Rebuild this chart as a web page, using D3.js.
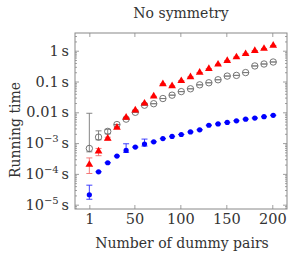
<!DOCTYPE html>
<html lang="en">
<head>
<meta charset="utf-8">
<title>No symmetry</title>
<script src="https://cdn.jsdelivr.net/npm/d3@7"></script>
<style>
  body { margin: 0; background: #fff; }
  text { font-family: "DejaVu Serif", serif; fill: #333; }
</style>
</head>
<body>
<svg id="chart" width="291" height="257"></svg>
<script>
/**number of dummy pairs on the x axis*/
var pairs = [1, 11, 21, 31, 41, 51, 61, 71, 81, 91, 101, 111, 121, 131, 141, 151, 161, 171, 181, 191, 201];

/**running times in seconds*/
var grayTimes = [6.7e-4, 1.56e-3, 2.4e-3, 4.0e-3, 6.0e-3, 0.010, 0.017, 0.019, 0.028, 0.036, 0.047,
                 0.058, 0.078, 0.091, 0.114, 0.15, 0.158, 0.195, 0.32, 0.37, 0.43];
var redTimes = [2.0e-4, 5.4e-4, 1.4e-3, 3.2e-3, 6.8e-3, 0.0117, 0.0195, 0.033, 0.083, 0.071, 0.105,
                0.14, 0.195, 0.26, 0.36, 0.47, 0.62, 0.79, 1.0, 1.17, 1.48];
var blueTimes = [2.1e-5, 1.17e-4, 2.3e-4, 3.8e-4, 5.8e-4, 7.4e-4, 9.3e-4, 1.1e-3, 1.4e-3, 1.65e-3, 1.9e-3,
                 2.3e-3, 2.7e-3, 3.8e-3, 4.2e-3, 4.7e-3, 5.3e-3, 6.0e-3, 6.5e-3, 7.2e-3, 8.0e-3];

/**error bar ends (null = bar hidden behind the mark)*/
var grayLo = [5.2e-4, 1.28e-3, 2.0e-3];
var grayHi = [9.3e-3, 2.5e-3, 2.8e-3];
var redLo = [1.03e-4, 3.9e-4, 1.25e-3];
var redHi = [3.3e-4, 6.7e-4, 1.55e-3];
var blueLo = [1.5e-5, null, null, null, 5.0e-4, null, 8.0e-4];
var blueHi = [4.3e-5, null, null, null, 9.5e-4, null, 1.35e-3];

/**axis ticks*/
var xTicks = [1, 50, 100, 150, 200];
var yTicks = [1e-5, 1e-4, 1e-3, 1e-2, 1e-1, 1];
var yLabels = [["10", "\u22125"], ["10", "\u22124"], ["10", "\u22123"], ["0.01"], ["0.1"], ["1"]];

var svg = d3.select("#chart"),
    plotLeft = 75, plotRight = 287, plotTop = 33, plotBottom = 209;

var x = d3.scaleLinear().domain([-14.6, 216]).range([plotLeft, plotRight]);
var y = d3.scaleLog().domain([7.24e-6, 3.76]).range([plotBottom, plotTop]);

/**minor ticks on the log axis: 2..9 times each decade*/
var minor = [];
for (var e = -6; e <= 0; e++) {
    for (var k = 2; k <= 9; k++) {
        var v = k * Math.pow(10, e);
        if (v > y.domain()[0] && v < y.domain()[1]) minor.push(v);
    }
}

/**ticks pointing inside, on all four sides*/
svg.append("g").attr("transform", "translate(0," + plotBottom + ")")
   .call(d3.axisBottom(x).tickValues(xTicks).tickSize(-4).tickPadding(5).tickFormat(d3.format("d")))
   .attr("class", "xaxis");
svg.append("g").attr("transform", "translate(0," + plotTop + ")")
   .call(d3.axisTop(x).tickValues(xTicks).tickSize(-4).tickFormat(""));
svg.append("g").attr("transform", "translate(" + plotLeft + ",0)")
   .call(d3.axisLeft(y).tickValues(yTicks).tickSize(-4).tickPadding(6).tickFormat(""))
   .attr("class", "yaxis");
svg.append("g").attr("transform", "translate(" + plotRight + ",0)")
   .call(d3.axisRight(y).tickValues(yTicks).tickSize(-4).tickFormat(""));
svg.append("g").attr("transform", "translate(" + plotLeft + ",0)")
   .call(d3.axisLeft(y).tickValues(minor).tickSize(-2).tickFormat(""));
svg.append("g").attr("transform", "translate(" + plotRight + ",0)")
   .call(d3.axisRight(y).tickValues(minor).tickSize(-2).tickFormat(""));

svg.selectAll(".domain").remove();
svg.selectAll(".tick line").attr("stroke", "#888").attr("stroke-width", 0.8);
svg.selectAll("g").attr("font-family", null).attr("font-size", null);
svg.selectAll("g text").attr("font-size", 14.5).attr("fill", "#333");

/**y labels with superscripts*/
svg.selectAll(".yaxis .tick text").each(function(d, i) {
    var t = d3.select(this), lab = yLabels[i];
    t.text(null);
    t.append("tspan").text(lab[0]);
    if (lab.length > 1) t.append("tspan").attr("font-size", 10).attr("dy", -6).text(lab[1]);
    t.append("tspan").attr("dy", lab.length > 1 ? 6 : 0).text("\u2009s");
});

/**frame*/
svg.append("rect").attr("x", plotLeft).attr("y", plotTop)
   .attr("width", plotRight - plotLeft).attr("height", plotBottom - plotTop)
   .attr("fill", "none").attr("stroke", "#888").attr("stroke-width", 1);

/**error bars, drawn under the marks*/
function errorBars(times, lo, hi, color) {
    var g = svg.append("g").attr("stroke", color).attr("stroke-width", 0.9);
    times.forEach(function(v, i) {
        var a = lo[i] == null ? v : lo[i], b = hi[i] == null ? v : hi[i];
        var cx = x(pairs[i]);
        g.append("line").attr("x1", cx).attr("x2", cx).attr("y1", y(a)).attr("y2", y(b));
        g.append("line").attr("x1", cx - 3).attr("x2", cx + 3).attr("y1", y(a)).attr("y2", y(a));
        g.append("line").attr("x1", cx - 3).attr("x2", cx + 3).attr("y1", y(b)).attr("y2", y(b));
    });
}
errorBars(grayTimes, grayLo, grayHi, "#777");
errorBars(redTimes, redLo, redHi, "#f46a6a");
errorBars(blueTimes, blueLo, blueHi, "#2a2aff");

/**gray open circles*/
svg.append("g").selectAll("circle").data(grayTimes).enter().append("circle")
   .attr("cx", function(d, i) { return x(pairs[i]); })
   .attr("cy", function(d) { return y(d); })
   .attr("r", 3.2)
   .attr("fill", "none").attr("stroke", "#666").attr("stroke-width", 0.9);

/**red triangles*/
svg.append("g").selectAll("path").data(redTimes).enter().append("path")
   .attr("d", d3.symbol().type(d3.symbolTriangle).size(26))
   .attr("transform", function(d, i) { return "translate(" + x(pairs[i]) + "," + y(d) + ")"; })
   .attr("fill", "#ff0000");

/**blue dots*/
svg.append("g").selectAll("circle").data(blueTimes).enter().append("circle")
   .attr("cx", function(d, i) { return x(pairs[i]); })
   .attr("cy", function(d) { return y(d); })
   .attr("r", 2.6)
   .attr("fill", "#0000ff");

/**titles*/
svg.append("text").attr("x", 181).attr("y", 18).attr("text-anchor", "middle")
   .attr("font-size", 14).text("No symmetry");
svg.append("text").attr("x", 182).attr("y", 248).attr("text-anchor", "middle")
   .attr("font-size", 14).text("Number of dummy pairs");
svg.append("text").attr("transform", "translate(20,130) rotate(-90)").attr("text-anchor", "middle")
   .attr("font-size", 14).text("Running time");
</script>
</body>
</html>
